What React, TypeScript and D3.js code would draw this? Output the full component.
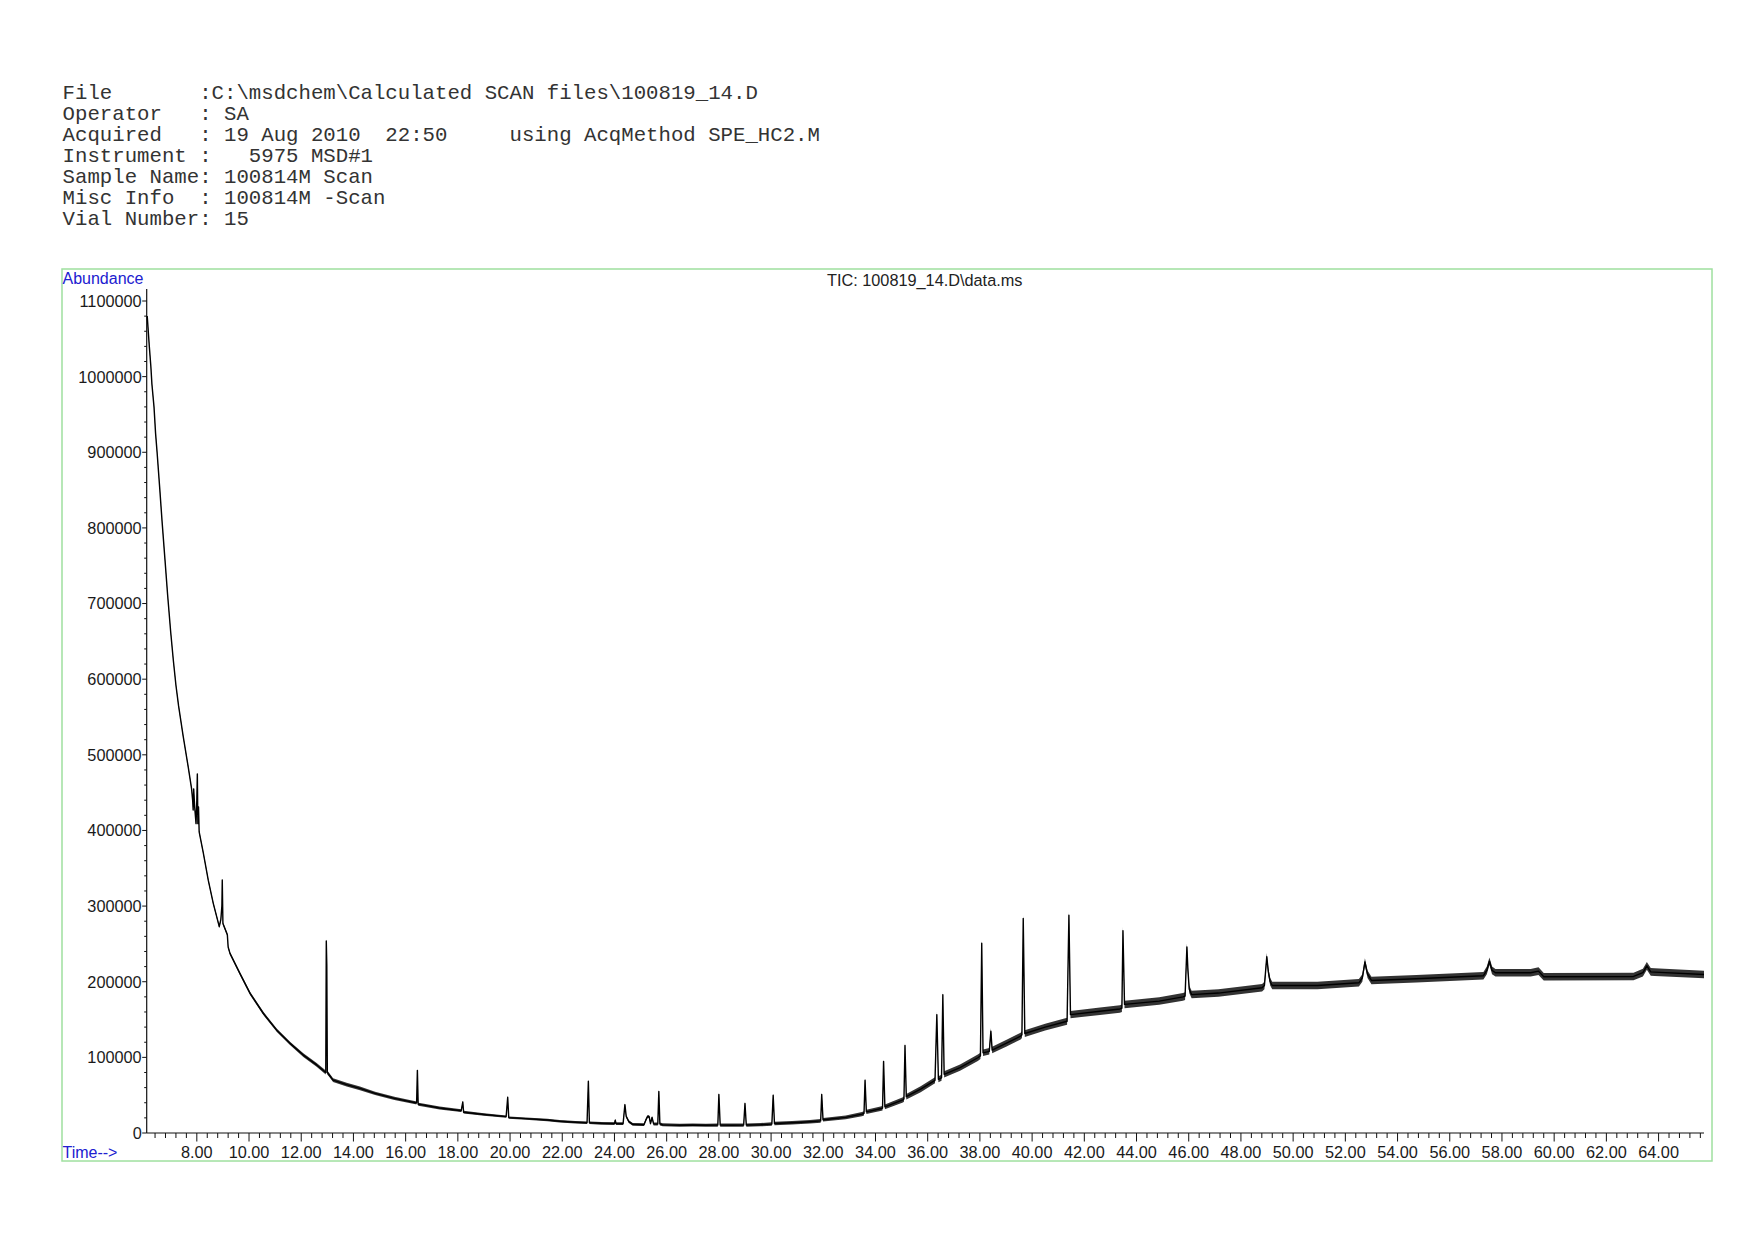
import React from 'react';
import * as d3 from 'd3';

// header block printed above the chromatogram
const headerLines = [
  'File       :C:\\msdchem\\Calculated SCAN files\\100819_14.D',
  'Operator   : SA',
  'Acquired   : 19 Aug 2010  22:50     using AcqMethod SPE_HC2.M',
  'Instrument :   5975 MSD#1',
  'Sample Name: 100814M Scan',
  'Misc Info  : 100814M -Scan',
  'Vial Number: 15',
];

const chartTitle = 'TIC: 100819_14.D\\data.ms';

// axis labels
const xLabels = [8, 10, 12, 14, 16, 18, 20, 22, 24, 26, 28, 30, 32, 34, 36, 38, 40, 42, 44, 46, 48, 50, 52, 54, 56, 58, 60, 62, 64];
const yLabels = [0, 100000, 200000, 300000, 400000, 500000, 600000, 700000, 800000, 900000, 1000000, 1100000];

// TIC trace: [time (min), abundance]
const tic: [number, number][] = [
  [6.1, 1080000], [6.18, 1040000], [6.24, 1013000], [6.28, 990000], [6.36, 960000],
  [6.42, 925000], [6.48, 899000], [6.58, 852000], [6.67, 808000], [6.78, 758000],
  [6.88, 712000], [7.0, 662000], [7.1, 625000], [7.2, 592000], [7.3, 565000],
  [7.48, 524000], [7.67, 484000], [7.8, 455000], [7.84, 440000], [7.86, 427000],
  [7.88, 455000], [7.92, 430000], [7.97, 409000], [8.0, 440000], [8.02, 474600],
  [8.04, 409000], [8.065, 431000], [8.09, 398000], [8.25, 370000], [8.44, 334000],
  [8.63, 303600], [8.86, 272800], [8.92, 282000], [8.96, 300000], [8.975, 334500],
  [9.0, 277000], [9.17, 262000], [9.2, 246000], [9.27, 237500], [9.65, 211000],
  [10.04, 184600], [10.55, 158000], [11.06, 136000], [11.57, 118500], [12.08, 103000],
  [12.59, 90000], [12.94, 80000], [12.96, 254000], [12.98, 222000], [13.0, 80000],
  [13.1, 75400], [13.22, 70000], [13.74, 64000], [14.25, 59000], [14.83, 52400],
  [15.57, 45800], [16.38, 40000], [16.42, 40000], [16.45, 82800], [16.48, 38000],
  [16.6, 37500], [17.3, 33000], [18.13, 29500], [18.19, 41000], [18.22, 27500],
  [19.0, 24500], [19.85, 21600], [19.91, 47300], [19.95, 20300], [20.6, 19000],
  [21.43, 17200], [21.9, 15500], [22.5, 14200], [22.95, 13500], [23.0, 68500],
  [23.04, 13500], [23.5, 12800], [24.0, 12500], [24.03, 17000], [24.06, 12500],
  [24.33, 12300], [24.4, 37500], [24.45, 22000], [24.55, 15000], [24.7, 11500],
  [25.13, 11000], [25.2, 17000], [25.27, 22000], [25.33, 21500], [25.38, 12500],
  [25.44, 20500], [25.5, 12000], [25.66, 11800], [25.7, 55000], [25.74, 12000],
  [25.85, 10800], [26.5, 10300], [27.0, 10500], [27.5, 10300], [27.96, 10500],
  [28.0, 51000], [28.05, 10500], [28.5, 10300], [28.95, 10500], [29.0, 39000],
  [29.05, 10500], [29.6, 11000], [30.03, 11800], [30.08, 50000], [30.13, 12500],
  [30.8, 13500], [31.49, 14900], [31.9, 16000], [31.94, 51000], [31.99, 17500],
  [32.86, 20600], [33.48, 25000], [33.56, 26000], [33.6, 69700], [33.65, 28000],
  [34.23, 32400], [34.27, 33000], [34.31, 94700], [34.36, 34600], [35.05, 43800],
  [35.09, 45000], [35.13, 115700], [35.18, 48000], [35.73, 57900], [36.28, 69700],
  [36.35, 156500], [36.41, 71000], [36.53, 73000], [36.58, 182800], [36.63, 77600],
  [37.24, 86400], [37.92, 99500], [38.02, 102000], [38.07, 250800], [38.12, 106000],
  [38.36, 108000], [38.42, 134600], [38.47, 109600], [39.0, 118500], [39.56, 128000],
  [39.61, 130000], [39.66, 283600], [39.72, 131500], [40.5, 140000], [41.34, 147700],
  [41.41, 288000], [41.47, 156500], [42.6, 161000], [43.36, 164000], [43.44, 165000],
  [43.48, 267600], [43.54, 170000], [44.87, 174400], [45.78, 180000], [45.86, 181000],
  [45.93, 246000], [45.97, 215000], [46.02, 190000], [46.11, 183000], [47.14, 185000],
  [48.81, 192000], [48.9, 195000], [48.99, 233000], [49.05, 213000], [49.12, 200000],
  [49.2, 195000], [50.93, 195000], [52.52, 198600], [52.65, 205000], [52.75, 226000],
  [52.85, 210000], [53.0, 201700], [54.72, 204000], [57.29, 208000], [57.42, 215000],
  [57.52, 227000], [57.62, 215000], [57.75, 211800], [59.1, 211800], [59.4, 214000],
  [59.6, 206500], [63.04, 207000], [63.4, 212000], [63.55, 221000], [63.7, 213000],
  [63.85, 212700], [65.74, 209600],
];

// visible thickness of the noisy trace (half width, abundance units)
const noiseTimes = [6.1, 13, 20, 33, 36, 44, 65.74];
const noiseHalf = [1500, 2500, 1500, 2500, 4000, 5000, 5000];

const W = 1754;
const H = 1240;

const App = () => {
  const x = d3.scaleLinear().domain([6.08, 65.74]).range([146.7, 1704]);
  const y = d3.scaleLinear().domain([0, 1100000]).range([1133, 301]);
  const noise = d3.scaleLinear().domain(noiseTimes).range(noiseHalf);

  const line = d3.line<[number, number]>()
    .x(d => x(d[0]))
    .y(d => y(d[1]));

  const band = d3.area<[number, number]>()
    .x(d => x(d[0]))
    .y0(d => y(d[1] - noise(d[0])))
    .y1(d => y(d[1] + noise(d[0])));

  const xMinor = d3.range(6.4, 65.7, 0.4).filter(t => Math.abs(t / 2 - Math.round(t / 2)) > 0.01);
  const yMinor = d3.range(0, 1100001, 20000).filter(v => v % 100000 !== 0);

  const axisColor = '#111';
  const sans = '"Liberation Sans", Arial, sans-serif';

  return (
    <svg width={W} height={H} style={{ position: 'absolute', left: 0, top: 0, background: '#fff' }}>
      <rect width={W} height={H} fill="#fff" />

      {/* header */}
      <g fontFamily='"Liberation Mono", "Courier New", monospace' fontSize={20.7} fill="#333">
        {headerLines.map((s, i) => (
          <text key={i} x={62.6} y={99.3 + i * 20.95} style={{ whiteSpace: 'pre' }}>{s}</text>
        ))}
      </g>

      {/* frame */}
      <rect x={62} y={269} width={1650} height={892} fill="none" stroke="#9fe09f" strokeWidth={1.5} />

      <text x={62.5} y={284} fontFamily={sans} fontSize={16} fill="#2020d0">Abundance</text>
      <text x={62.5} y={1157.5} fontFamily={sans} fontSize={16} fill="#2020d0">Time--&gt;</text>
      <text x={924.7} y={286} fontFamily={sans} fontSize={16.3} fill="#222" textAnchor="middle">{chartTitle}</text>

      {/* y axis */}
      <line x1={x(6.08)} x2={x(6.08)} y1={y(1116000)} y2={y(0)} stroke={axisColor} strokeWidth={1.2} />
      {yMinor.map(v => (
        <line key={'ym' + v} x1={x(6.08) - 2.5} x2={x(6.08)} y1={y(v)} y2={y(v)} stroke={axisColor} strokeWidth={1} />
      ))}
      {yLabels.map(v => (
        <g key={'y' + v}>
          <line x1={x(6.08) - 4.5} x2={x(6.08)} y1={y(v)} y2={y(v)} stroke={axisColor} strokeWidth={1} />
          <text x={x(6.08) - 5} y={y(v)} dy="0.36em" textAnchor="end" fontFamily={sans} fontSize={16.3} fill="#1a1a1a">{v}</text>
        </g>
      ))}

      {/* x axis */}
      <line x1={x(6.08)} x2={x(65.74)} y1={y(0)} y2={y(0)} stroke={axisColor} strokeWidth={1.2} />
      {xMinor.map(t => (
        <line key={'xm' + t} x1={x(t)} x2={x(t)} y1={y(0)} y2={y(0) + 5} stroke={axisColor} strokeWidth={1} />
      ))}
      {xLabels.map(t => (
        <g key={'x' + t}>
          <line x1={x(t)} x2={x(t)} y1={y(0)} y2={y(0) + 8.5} stroke={axisColor} strokeWidth={1} />
          <text x={x(t)} y={1157.5} textAnchor="middle" fontFamily={sans} fontSize={16.3} fill="#1a1a1a">{t.toFixed(2)}</text>
        </g>
      ))}

      {/* trace */}
      <path d={band(tic) || ''} fill="#000" fillOpacity={0.8} stroke="none" />
      <path d={line(tic) || ''} fill="none" stroke="#000" strokeWidth={1.4} strokeLinejoin="round" />
    </svg>
  );
};

export default App;
